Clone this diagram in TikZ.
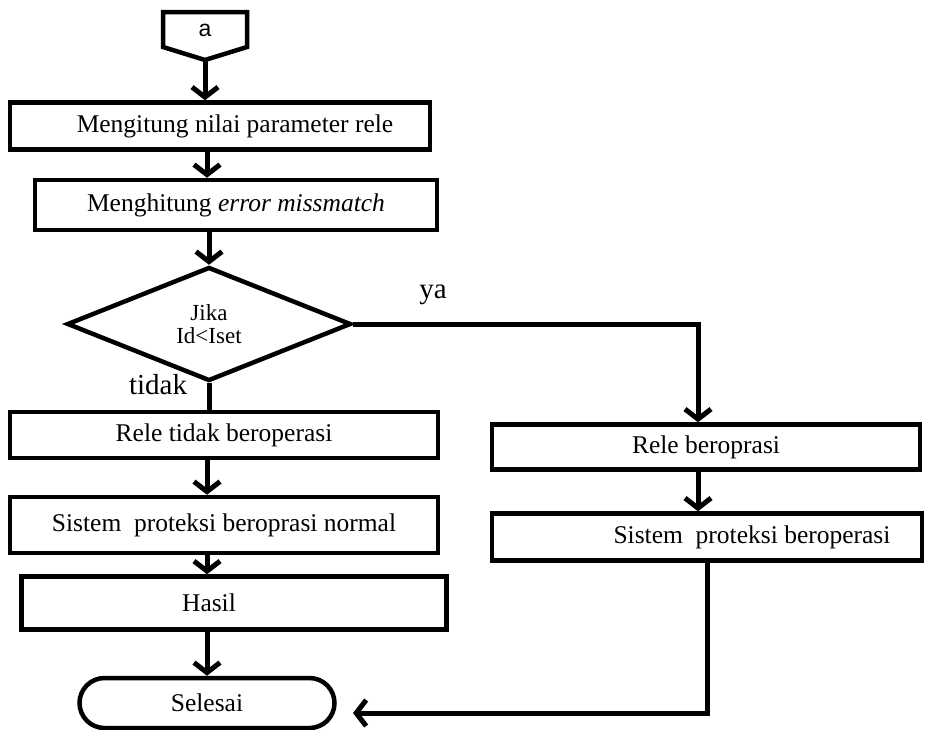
\documentclass[tikz,border=0pt]{standalone}
\usepackage{fontspec}
\setmainfont{Liberation Serif}
\setsansfont{Liberation Sans}
\usetikzlibrary{arrows.meta,shapes.geometric,shapes.misc}
\begin{document}
\begin{tikzpicture}[x=1pt,y=-1pt,
  box/.style={draw, line width=4.5pt, inner sep=0pt, font=\fontsize{25.5}{28}\selectfont},
  arr/.style={line width=5pt, -{Straight Barb[length=10pt,width=26pt]}},
  ln/.style={line width=5pt},
  lbl/.style={font=\fontsize{29}{30}\selectfont, inner sep=0pt}]
\useasboundingbox (0,0) rectangle (925,729);
% off-page connector
\draw[line width=4.5pt, line join=miter] (163,12) -- (247,12) -- (247,47) -- (205,60) -- (163,47) -- cycle;
\node[font=\sffamily\fontsize{23}{24}\selectfont, inner sep=0pt] (a) at (205,30) {a};
\coordinate (atip) at (205,60);
\coordinate (lx) at (207,0);
\coordinate (yx) at (698,0);
\coordinate (rx) at (707,0);
% left column
\node[box, minimum width=420pt, minimum height=47pt] (b1) at (220,126) {\hspace*{30pt}Mengitung nilai parameter rele};
\node[box, minimum width=402pt, minimum height=50pt] (b2) at (236,205) {Menghitung \textit{error missmatch}};
\node[draw, line width=4.5pt, diamond, minimum width=284pt, minimum height=114pt, inner sep=0pt, align=center,
      font=\fontsize{23}{23.5}\selectfont] (dec) at (209,324) {Jika\\Id<Iset};
\node[box, minimum width=428pt, minimum height=46pt] (b3) at (224,435) {Rele tidak beroperasi};
\node[box, minimum width=428pt, minimum height=56pt] (b4) at (224,525) {Sistem\ \ proteksi beroprasi normal};
\node[box, minimum width=425pt, minimum height=53pt] (b5) at (234,603) {\hspace*{-50pt}Hasil};
\node[box, rounded rectangle, minimum width=255pt, minimum height=50pt] (end) at (207,703) {Selesai};
% right column
\node[box, minimum width=428pt, minimum height=45pt] (r1) at (706,447) {Rele beroprasi};
\node[box, minimum width=430pt, minimum height=47pt] (r2) at (707,537) {\hspace*{90pt}Sistem\ \ proteksi beroperasi};
\coordinate (ret) at (353,713);
% labels
\node[lbl] (ya) at (433,295) {ya};
\node[lbl] (tidak) at (158,385) {tidak};
% connectors
\draw[arr] (atip) -- (b1.north -| atip);
\draw[arr] (b1.south -| lx) -- (b2.north -| lx);
\draw[arr] (b2.south -| dec.north) -- (dec.north);
\draw[ln] (dec.south) -- (b3.north -| dec.south);
\draw[arr] (b3.south -| lx) -- (b4.north -| lx);
\draw[arr] (b4.south -| lx) -- (b5.north -| lx);
\draw[arr] (b5.south -| lx) -- (end.north -| lx);
\draw[arr] (dec.east) -| (r1.north -| yx);
\draw[arr] (r1.south -| yx) -- (r2.north -| yx);
\draw[arr] (r2.south -| rx) |- (ret);
\end{tikzpicture}
\end{document}
